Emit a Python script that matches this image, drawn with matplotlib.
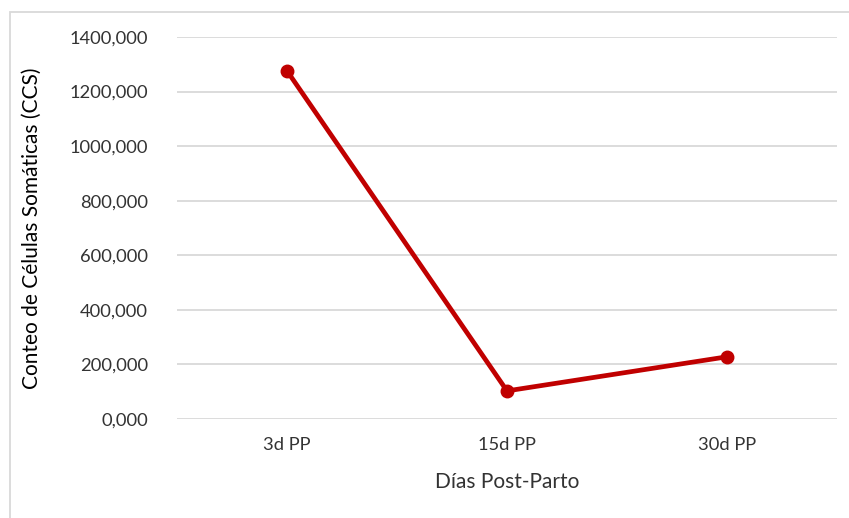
import matplotlib
matplotlib.use("Agg")
import matplotlib.pyplot as plt
from matplotlib.ticker import FuncFormatter
from matplotlib.patches import Rectangle

categories = ["3d PP", "15d PP", "30d PP"]
values = [1276, 103, 228]
y_ticks = [0, 200, 400, 600, 800, 1000, 1200, 1400]

plt.rcParams['font.family'] = ['Lato', 'DejaVu Sans']

W, H = 849, 518
fig = plt.figure(figsize=(W/100, H/100), dpi=100)
ax = fig.add_axes([177/W, 1-419/H, (837-177)/W, (419-37)/H])

x = list(range(len(categories)))
ax.plot(x, values, color="#C00000", linewidth=3.4, marker="o", markersize=9,
        solid_capstyle="round", zorder=3)
ax.set_xlim(-0.5, len(categories)-0.5)
ax.set_ylim(0, 1400)
ax.set_yticks(y_ticks)
ax.yaxis.set_major_formatter(FuncFormatter(lambda v, p: f"{int(v)},000"))
ax.set_xticks(x)
ax.set_xticklabels(categories)
ax.grid(axis="y", color="#D9D9D9", linewidth=1.3)
ax.set_axisbelow(True)
for s in ax.spines.values():
    s.set_visible(False)
ax.tick_params(axis="both", length=0, labelsize=13.2, labelcolor="#333333")
ax.tick_params(axis="y", pad=21)
ax.tick_params(axis="x", pad=13)
ax.set_xlabel("Días Post-Parto", fontsize=15, color="#333333", labelpad=14)
ax.set_ylabel("Conteo de Células Somáticas (CCS)", fontsize=15, color="#000000", labelpad=20)

fig.patches.append(Rectangle((10/W, -0.1), 2, (1-12/H)+0.1, transform=fig.transFigure,
                             fill=False, edgecolor="#D9D9D9", linewidth=1.3))
fig.savefig("out.png", dpi=100)
